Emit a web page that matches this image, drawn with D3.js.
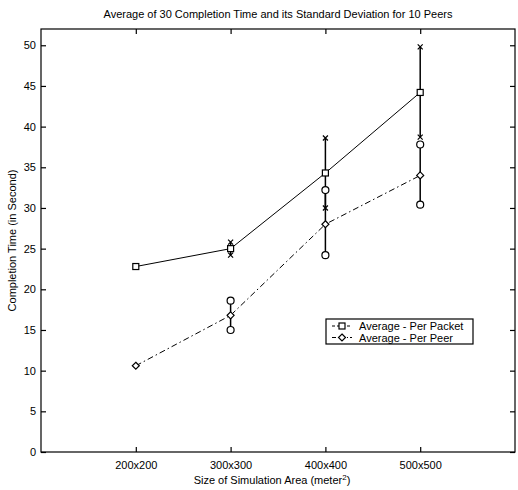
<!DOCTYPE html>
<html>
<head>
<meta charset="utf-8">
<script src="https://cdn.jsdelivr.net/npm/d3@7"></script>
<style>
  body { margin: 0; background: #fff; }
  svg { font-family: "Liberation Sans", Arial, sans-serif; }
</style>
</head>
<body>
<svg id="chart" width="518" height="490"></svg>
<script>
const categories = ["200x200", "300x300", "400x400", "500x500"];
const perPacket = [22.8, 25.0, 34.3, 44.2];
const perPacketLow = [null, 24.2, 30.0, 38.7];
const perPacketHigh = [null, 25.8, 38.6, 49.8];
const perPeer = [10.6, 16.8, 28.0, 34.0];
const perPeerLow = [null, 15.0, 24.2, 30.4];
const perPeerHigh = [null, 18.6, 32.2, 37.8];
const yTicks = [0, 5, 10, 15, 20, 25, 30, 35, 40, 45, 50];

const svg = d3.select("#chart");
const mLeft = 41, mRight = 515, mTop = 29, mBottom = 452;

const x = d3.scaleLinear().domain([0, 5]).range([mLeft, mRight]);
const y = d3.scaleLinear().domain([0, 52]).range([mBottom, mTop]);

// box
svg.append("rect")
    .attr("x", mLeft).attr("y", mTop)
    .attr("width", mRight - mLeft).attr("height", mBottom - mTop)
    .attr("fill", "none").attr("stroke", "#000").attr("stroke-width", 1.2);

// axes with inward ticks
const xTickPos = categories.map((d, i) => i + 1);
svg.append("g")
    .attr("transform", `translate(0,${mBottom})`)
    .call(d3.axisBottom(x).tickValues(xTickPos).tickSize(-5).tickPadding(9)
        .tickFormat((d, i) => categories[i]))
    .call(g => g.select(".domain").remove());
svg.append("g")
    .attr("transform", `translate(0,${mTop})`)
    .call(d3.axisTop(x).tickValues(xTickPos).tickSize(-5).tickFormat(""))
    .call(g => g.select(".domain").remove());
svg.append("g")
    .attr("transform", `translate(${mLeft},0)`)
    .call(d3.axisLeft(y).tickValues(yTicks).tickSize(-5).tickPadding(5))
    .call(g => g.select(".domain").remove());
svg.append("g")
    .attr("transform", `translate(${mRight},0)`)
    .call(d3.axisRight(y).tickValues(yTicks).tickSize(-5).tickFormat(""))
    .call(g => g.select(".domain").remove());

svg.selectAll(".tick text")
    .attr("font-size", 11).attr("fill", "#000")
    .attr("font-family", "Liberation Sans, Arial, sans-serif");
svg.selectAll(".tick line").attr("stroke", "#000").attr("stroke-width", 1.2);

// error bars
function errorBars(low, high, marker) {
    const idx = d3.range(low.length).filter(i => low[i] != null);
    svg.append("g").selectAll("line")
        .data(idx).join("line")
        .attr("x1", i => x(i + 1)).attr("x2", i => x(i + 1))
        .attr("y1", i => y(low[i])).attr("y2", i => y(high[i]))
        .attr("stroke", "#000").attr("stroke-width", 1.5);
    const ends = idx.flatMap(i => [[i, low[i]], [i, high[i]]]);
    const g = svg.append("g");
    ends.forEach(([i, v]) => {
        const cx = x(i + 1), cy = y(v);
        if (marker === "x") {
            g.append("path")
                .attr("d", `M${cx - 2.5},${cy - 2.5}L${cx + 2.5},${cy + 2.5}M${cx - 2.5},${cy + 2.5}L${cx + 2.5},${cy - 2.5}`)
                .attr("stroke", "#000").attr("stroke-width", 1.2);
        } else {
            g.append("circle").attr("cx", cx).attr("cy", cy).attr("r", 3.5)
                .attr("fill", "#fff").attr("stroke", "#000").attr("stroke-width", 1.2);
        }
    });
}
errorBars(perPacketLow, perPacketHigh, "x");
errorBars(perPeerLow, perPeerHigh, "o");

// lines
const line = d3.line().x((d, i) => x(i + 1)).y(d => y(d));
svg.append("path").datum(perPacket)
    .attr("d", line).attr("fill", "none")
    .attr("stroke", "#000").attr("stroke-width", 1);
svg.append("path").datum(perPeer)
    .attr("d", line).attr("fill", "none")
    .attr("stroke", "#000").attr("stroke-width", 1)
    .attr("stroke-dasharray", "6,3,1.5,3");

function square(g, cx, cy) {
    g.append("rect").attr("x", cx - 3).attr("y", cy - 3)
        .attr("width", 6).attr("height", 6)
        .attr("fill", "#fff").attr("stroke", "#000").attr("stroke-width", 1.2);
}
function diamond(g, cx, cy) {
    g.append("path")
        .attr("d", `M${cx},${cy - 3.5}L${cx + 3.5},${cy}L${cx},${cy + 3.5}L${cx - 3.5},${cy}Z`)
        .attr("fill", "#fff").attr("stroke", "#000").attr("stroke-width", 1.2);
}
const mk = svg.append("g");
perPacket.forEach((v, i) => square(mk, x(i + 1), y(v)));
perPeer.forEach((v, i) => diamond(mk, x(i + 1), y(v)));

// legend
const lg = svg.append("g");
lg.append("rect").attr("x", 326).attr("y", 319).attr("width", 147).attr("height", 25)
    .attr("fill", "#fff").attr("stroke", "#000").attr("stroke-width", 1.2);
const legendItems = [
    { label: "Average - Per Packet", m: square, dash: "3,2" },
    { label: "Average - Per Peer", m: diamond, dash: "4,2,1,2" }
];
legendItems.forEach((d, i) => {
    const ly = 326 + i * 11.5;
    lg.append("line").attr("x1", 332).attr("x2", 352).attr("y1", ly).attr("y2", ly)
        .attr("stroke", "#000").attr("stroke-width", 1).attr("stroke-dasharray", d.dash);
    d.m(lg, 342, ly);
    lg.append("text").attr("x", 359).attr("y", ly + 4)
        .attr("font-size", 11).text(d.label);
});

// titles
svg.append("text").attr("x", 278).attr("y", 18).attr("text-anchor", "middle")
    .attr("font-size", 11).text("Average of 30 Completion Time and its Standard Deviation for 10 Peers");
const xl = svg.append("text").attr("x", 272).attr("y", 484).attr("text-anchor", "middle")
    .attr("font-size", 11);
xl.append("tspan").text("Size of Simulation Area (meter");
xl.append("tspan").attr("dy", -4).attr("font-size", 8).text("2");
xl.append("tspan").attr("dy", 4).text(")");
svg.append("text")
    .attr("transform", `translate(16,${(mTop + mBottom) / 2}) rotate(-90)`)
    .attr("text-anchor", "middle").attr("font-size", 11)
    .text("Completion Time (in Second)");
</script>
</body>
</html>
